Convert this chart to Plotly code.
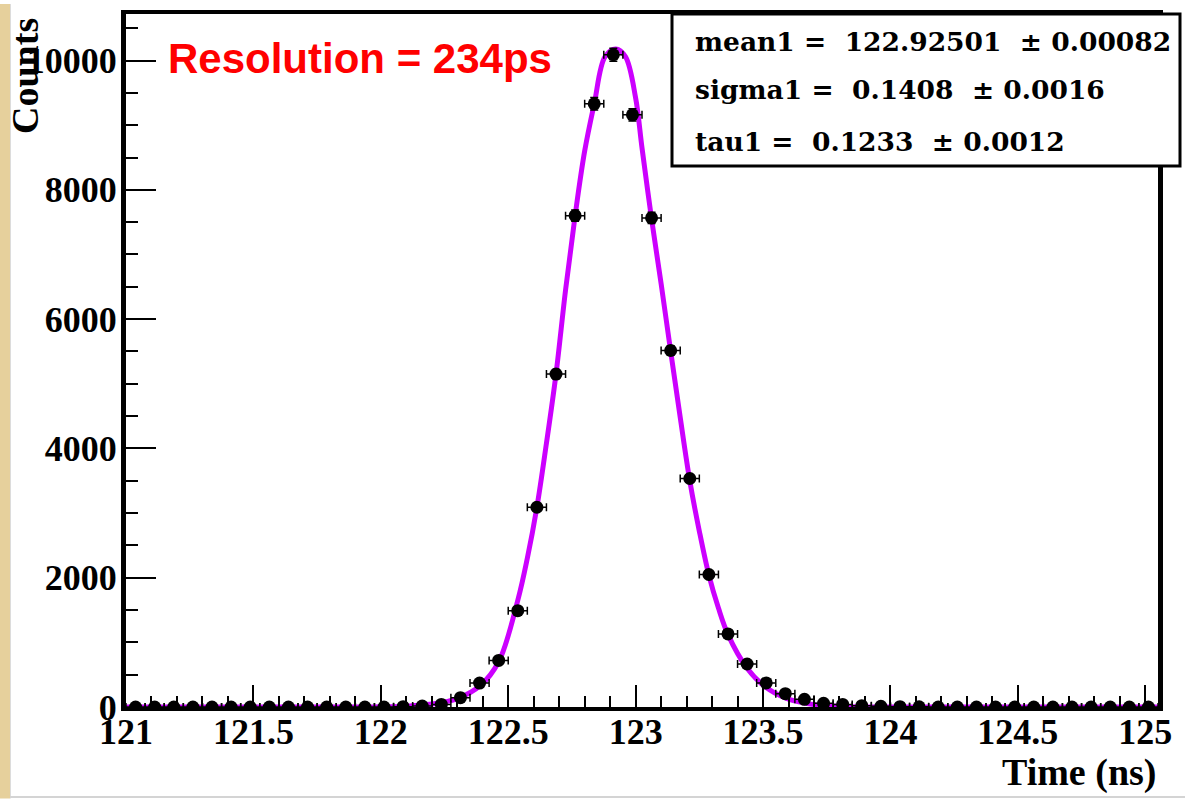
import numpy as np
import plotly.graph_objects as go

# Histogram: 54 bins of 0.075 ns on [121, 125.05]
bin_lo = 121.0
bin_w = 0.075
counts = [0, 0, 0, 0, 0, 0, 0, 0, 0, 0,
          0, 0, 0, 0, 5, 15, 40, 145, 370, 720,
          1490, 3090, 5150, 7600, 9330, 10090, 9160, 7565, 5515, 3535,
          2050, 1130, 665, 372, 206, 118, 57, 40, 20, 10,
          5, 3, 0, 0, 0, 0, 0, 0, 0, 0,
          0, 0, 0, 0]

# Fitted curve, sampled along its trace
fit_x = [121.0, 121.5, 121.9, 122.0, 122.1, 122.2, 122.3, 122.39, 122.4625,
         122.5375, 122.575, 122.6125, 122.65, 122.6875, 122.725, 122.7625,
         122.8, 122.8375, 122.88, 122.922, 122.96, 123.0, 123.025, 123.0625,
         123.1, 123.1375, 123.175, 123.2125, 123.25, 123.2875, 123.325,
         123.3625, 123.4375, 123.5125, 123.5875, 123.6625, 123.74, 123.85,
         124.0, 124.5, 125.05]
fit_y = [0, 0, 0, 3, 12, 45, 130, 330, 700,
         1650, 2300, 3090, 4080, 5150, 6450, 7600,
         8600, 9330, 10060, 10180, 10060, 9420, 8650, 7550,
         6550, 5500, 4480, 3500, 2720, 2040, 1530,
         1120, 600, 300, 140, 60, 22, 5,
         0, 0, 0]

stats_lines = ["mean1 =\u00a0\u00a0122.92501\u00a0\u00a0\u00b1\u00a00.00082",
               "sigma1 =\u00a0\u00a00.1408\u00a0\u00a0\u00b1\u00a00.0016",
               "tau1 =\u00a0\u00a00.1233\u00a0\u00a0\u00b1\u00a00.0012"]
resolution_text = "Resolution = 234ps"

centers = [bin_lo + (i + 0.5) * bin_w for i in range(len(counts))]
err_y = [float(np.sqrt(c)) for c in counts]
err_x = [bin_w / 2] * len(counts)

W, H = 1185, 799
ML, MR, MT, MB = 126, 27, 10, 92
PW, PH = W - ML - MR, H - MT - MB


def px_x(p):
    return (p - ML) / PW


def px_y(p):
    return (H - MB - p) / PH


fig = go.Figure()

fig.add_trace(go.Scatter(
    x=fit_x, y=fit_y, mode="lines",
    line=dict(color="#cc00ff", width=5, shape="spline", smoothing=1.0),
    hoverinfo="skip", showlegend=False))

fig.add_trace(go.Scatter(
    x=centers, y=counts, mode="markers",
    marker=dict(color="black", size=13),
    error_x=dict(type="data", array=err_x, color="black", thickness=1.5, width=4),
    error_y=dict(type="data", array=err_y, color="black", thickness=1.5, width=4),
    showlegend=False))

tick_font = dict(family="Liberation Serif", size=36, color="black", weight="bold")

fig.update_xaxes(
    range=[121, 125.05], tick0=121, dtick=0.5, ticks="inside", ticklen=22,
    tickwidth=2, tickcolor="black", tickfont=tick_font, showgrid=False,
    zeroline=False, showline=True, linecolor="black", linewidth=4, mirror=True,
    ticklabelstandoff=-10,
    minor=dict(dtick=0.1, tick0=121, ticks="inside", ticklen=11, tickwidth=2,
               tickcolor="black", showgrid=False))

fig.update_yaxes(
    range=[0, 10720], tick0=0, dtick=2000, tickformat="d", ticks="inside",
    ticklen=30, tickwidth=2, tickcolor="black", tickfont=tick_font,
    showgrid=False, zeroline=False, showline=True, linecolor="black",
    linewidth=5, mirror=True, ticklabelstandoff=-3,
    minor=dict(dtick=500, tick0=0, ticks="inside", ticklen=12, tickwidth=2,
               tickcolor="black", showgrid=False))

shapes = [
    # textured side strip
    dict(type="rect", xref="paper", yref="paper", x0=px_x(0), x1=px_x(10),
         y0=px_y(H), y1=px_y(0), fillcolor="#e6d09c", line=dict(width=0),
         layer="below"),
    dict(type="line", xref="paper", yref="paper", x0=px_x(10.5), x1=px_x(10.5),
         y0=px_y(H), y1=px_y(0), line=dict(color="#dcdcdc", width=1)),
    dict(type="line", xref="paper", yref="paper", x0=px_x(10), x1=px_x(W),
         y0=px_y(797.5), y1=px_y(797.5), line=dict(color="#d4d4d4", width=2)),
    # fit-parameter box
    dict(type="rect", xref="paper", yref="paper", x0=px_x(672), x1=px_x(1180),
         y0=px_y(163), y1=px_y(10), fillcolor="white",
         line=dict(color="black", width=3), layer="above"),
]

stats_font = dict(family="DejaVu Serif", size=26.5, color="black", weight="bold")
annotations = []
for line, yc in zip(stats_lines, [38, 86, 138]):
    annotations.append(dict(
        text=line, xref="paper", yref="paper", x=px_x(693), y=px_y(yc),
        xanchor="left", yanchor="middle", showarrow=False, font=stats_font))

annotations.append(dict(
    text=resolution_text, xref="paper", yref="paper", x=px_x(166), y=px_y(55),
    xanchor="left", yanchor="middle", showarrow=False,
    font=dict(family="Liberation Sans", size=42, color="#ff0000", weight="bold")))

annotations.append(dict(
    text="Counts", xref="paper", yref="paper", x=px_x(25), y=px_y(12),
    xanchor="center", yanchor="top", textangle=-90, showarrow=False,
    font=dict(family="Liberation Serif", size=38, color="black", weight="bold")))

annotations.append(dict(
    text="Time (ns)", xref="paper", yref="paper", x=px_x(1158), y=px_y(797),
    xanchor="right", yanchor="bottom", showarrow=False,
    font=dict(family="Liberation Serif", size=38, color="black", weight="bold")))

fig.update_layout(
    width=W, height=H, margin=dict(l=ML, r=MR, t=MT, b=MB),
    paper_bgcolor="white", plot_bgcolor="white",
    shapes=shapes, annotations=annotations, showlegend=False)

fig.write_html("out.html")
